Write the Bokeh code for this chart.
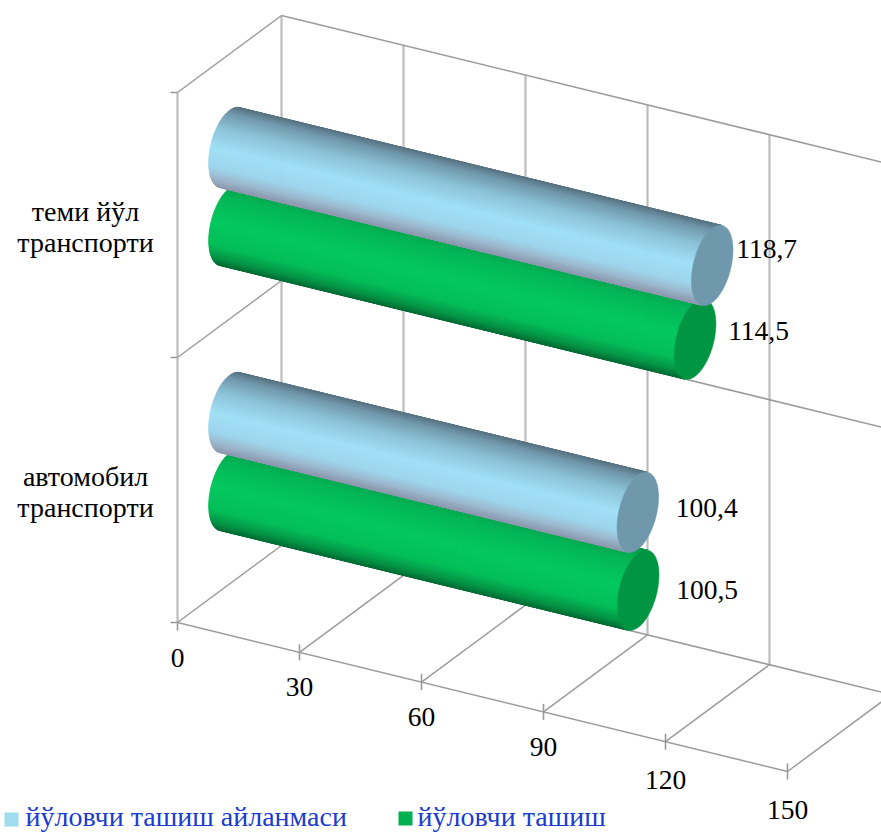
import math
from bokeh.plotting import figure
from bokeh.models import Range1d
from bokeh.core.properties import value
from bokeh.embed import file_html
from bokeh.resources import INLINE

categories = ["автомобил\nтранспорти", "теми йўл\nтранспорти"]
series_names = ["йўловчи ташиш айланмаси", "йўловчи ташиш"]
passenger_turnover = [100.4, 118.7]
passenger_transport = [100.5, 114.5]
value_labels_turnover = ["100,4", "118,7"]
value_labels_transport = ["100,5", "114,5"]
value_ticks = [0, 30, 60, 90, 120, 150]

# oblique projection: value, depth (0..1), category position (0..2) -> page pixels
ORIGIN = (177.0, 622.0)
PER_VALUE = (610.0 / 150, 149.0 / 150)
DEPTH = (104.0, -77.0)
PER_CAT = (0.0, -265.0)
VMAX = 150
NCAT = 2


def proj(v, d, c):
    return (ORIGIN[0] + v * PER_VALUE[0] + d * DEPTH[0] + c * PER_CAT[0],
            ORIGIN[1] + v * PER_VALUE[1] + d * DEPTH[1] + c * PER_CAT[1])


def seg(a, b):
    return [a[0], b[0]], [a[1], b[1]]


p = figure(width=881, height=833, x_range=Range1d(0, 881), y_range=Range1d(833, 0),
           output_backend="svg", toolbar_location=None, min_border=0,
           x_axis_location=None, y_axis_location=None, outline_line_color=None,
           background_fill_color="white", border_fill_color="white")
p.xgrid.visible = False
p.ygrid.visible = False

# thick verticals
vx, vy = [], []
for v in value_ticks:
    a, b = seg(proj(v, 1, 0), proj(v, 1, NCAT))
    vx.append(a)
    vy.append(b)
a, b = seg(proj(0, 0, 0), proj(0, 0, NCAT))
vx.append(a)
vy.append(b)
p.multi_line(vx, vy, line_color="#bcbcbc", line_width=2.2)

# thin wall and floor lines
tx, ty = [], []
for c in range(NCAT + 1):
    a, b = seg(proj(0, 0, c), proj(0, 1, c))
    tx.append(a)
    ty.append(b)
    a, b = seg(proj(0, 1, c), proj(VMAX, 1, c))
    tx.append(a)
    ty.append(b)
for v in value_ticks[1:]:
    a, b = seg(proj(v, 0, 0), proj(v, 1, 0))
    tx.append(a)
    ty.append(b)
a, b = seg(proj(0, 0, 0), proj(VMAX, 0, 0))
tx.append(a)
ty.append(b)
p.multi_line(tx, ty, line_color="#9c9c9c", line_width=1.5)

# ticks
kx, ky = [], []
for c in range(NCAT + 1):
    q = proj(0, 0, c)
    kx.append([q[0] - 7, q[0]])
    ky.append([q[1], q[1]])
for v in value_ticks:
    q = proj(v, 0, 0)
    top = q[1] - 8 if v else q[1]
    kx.append([q[0], q[0]])
    ky.append([top, q[1] + 8])
p.multi_line(kx, ky, line_color="#9a9a9a", line_width=1.6)

BLUE = [(0, "#56707f"), (.10, "#6f97aa"), (.30, "#8cc2d8"), (.55, "#9fe0f6"),
        (.78, "#9dd5ec"), (.92, "#9ab2c8"), (1, "#8e9ab0")]
GREEN = [(0, "#009a49"), (.18, "#00b655"), (.5, "#00c95d"), (.78, "#00bd56"),
         (.93, "#008f42"), (1, "#006f35")]
CAP_BLUE = "#6f98ad"
CAP_GREEN = "#009542"


def rgb(h):
    return [int(h[i:i + 2], 16) for i in (1, 3, 5)]


def shade(stops, f):
    for (f0, c0), (f1, c1) in zip(stops, stops[1:]):
        if f <= f1:
            k = (f - f0) / (f1 - f0)
            m = [round(x + (y - x) * k) for x, y in zip(rgb(c0), rgb(c1))]
            return "#%02x%02x%02x" % tuple(m)
    return stops[-1][1]


R_CAT = 0.140      # radius along the category axis
R_DEPTH = 0.2      # radius along the depth axis
OFFSET = 0.147     # series offset from category centre
N = 60


def ring(v, c, t):
    return proj(v, 0.5 + R_DEPTH * math.sin(t), c + R_CAT * math.cos(t))


def cylinder(v, c, stops, cap):
    a, b = PER_VALUE
    rv = R_CAT * abs(PER_CAT[1])
    dx = R_DEPTH * DEPTH[0]
    dy = R_DEPTH * DEPTH[1]
    t0 = math.atan2(dx * b / a - dy, rv)
    xs, ys, cols = [], [], []
    for i in range(N):
        t1 = t0 - math.pi * i / N
        t2 = t0 - math.pi * (i + 1) / N
        f = (1 - math.cos(math.pi * (i + .5) / N)) / 2
        q = [ring(0, c, t1), ring(v, c, t1), ring(v, c, t2), ring(0, c, t2)]
        xs.append([z[0] for z in q])
        ys.append([z[1] for z in q])
        cols.append(shade(stops, f))
    p.patches(xs, ys, fill_color=cols, line_color=cols, line_width=0.8)
    ell = [ring(v, c, 2 * math.pi * i / 72) for i in range(72)]
    p.patch([z[0] for z in ell], [z[1] for z in ell], fill_color=cap, line_color=cap, line_width=0.5)


font = value("Liberation Serif")
# lower category first; green lies under blue
for i in range(len(categories)):
    cylinder(passenger_transport[i], i + .5 - OFFSET, GREEN, CAP_GREEN)
    cylinder(passenger_turnover[i], i + .5 + OFFSET, BLUE, CAP_BLUE)


def label(x, y, s, align="center", color="black", size="27.5px"):
    p.text([x], [y], text=[s], text_font=font, text_font_size=size, text_color=color,
           text_align=align, text_baseline="middle")


# value labels: hand-placed offsets from each bar's end, as in the source chart
gap_turnover = [(38, -4), (24, -16)]
gap_transport = [(38, 0), (33, -8)]
for i in range(len(categories)):
    for val, txt, gap, off in ((passenger_turnover[i], value_labels_turnover[i], gap_turnover[i], OFFSET),
                               (passenger_transport[i], value_labels_transport[i], gap_transport[i], -OFFSET)):
        q = proj(val, .5, i + .5 + off)
        label(q[0] + gap[0], q[1] + gap[1], txt, "left")

# value tick labels
tick_label_dy = [35, 35, 35, 35, 38, 38]
for v, dy in zip(value_ticks, tick_label_dy):
    q = proj(v, 0, 0)
    label(q[0], q[1] + dy, str(v))

# category labels
for i, cat in enumerate(categories):
    q = proj(0, 0, i + .5)
    for j, line in enumerate(cat.split("\n")):
        label(q[0] - 92, q[1] - 14 + j * 31, line, size="28px")

# legend
LEG = "#1a3ccf"
p.quad(left=[4], right=[18], top=[812], bottom=[826], fill_color="#9fdcee", line_color=None)
label(25, 816, series_names[0], "left", LEG, "28px")
p.quad(left=[398], right=[412], top=[811], bottom=[825], fill_color="#00b050", line_color=None)
label(417, 816, series_names[1], "left", LEG, "28px")

open("out.html", "w").write(file_html(p, INLINE))
